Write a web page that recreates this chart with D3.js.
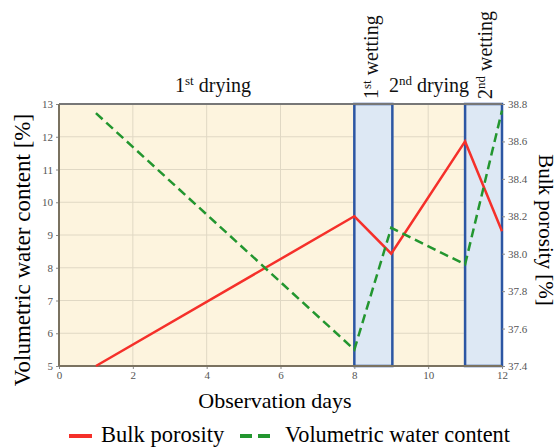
<!DOCTYPE html>
<html>
  <head>
    <script src="https://d3js.org/d3.v7.min.js"></script>
    <style>
      body { margin: 0; background: #fff; }
      svg text { font-family: 'Liberation Serif'; }
    </style>
  </head>
  <body>
    <svg width="559" height="448"></svg>
    <script>
      // data
      var porosityDays = [1, 8, 9, 11, 12];
      var porosity = [37.4, 38.2, 38.0, 38.6, 38.12];
      var waterDays = [1, 8, 9, 11, 12];
      var water = [12.72, 5.5, 9.22, 8.1, 12.8];
      var wettingStart = [8, 11];
      var wettingEnd = [9.03, 12];
      var dayTicks = [0, 2, 4, 6, 8, 10, 12];
      var waterTicks = [5, 6, 7, 8, 9, 10, 11, 12, 13];
      var porosityTicks = [37.4, 37.6, 37.8, 38.0, 38.2, 38.4, 38.6, 38.8];

      var svg = d3.select("svg");
      var plotL = 59, plotR = 502, plotT = 104, plotB = 366;
      var fontName = "'Liberation Serif'";

      var x = d3.scaleLinear().domain([0, 12]).range([plotL, plotR]);
      var yL = d3.scaleLinear().domain([5, 13]).range([plotB, plotT]);
      var yR = d3.scaleLinear().domain([37.4, 38.8]).range([plotB, plotT]);

      // background
      svg.append("rect")
        .attr("x", plotL).attr("y", plotT)
        .attr("width", plotR - plotL).attr("height", plotB - plotT)
        .style("fill", "#fdf4de");

      // grid
      svg.append("g").selectAll("line").data(waterTicks.slice(1, -1)).enter()
        .append("line")
        .attr("x1", plotL).attr("x2", plotR)
        .attr("y1", function (d) { return yL(d); })
        .attr("y2", function (d) { return yL(d); })
        .style("stroke", "#e0d8c4").style("stroke-width", 1);
      svg.append("g").selectAll("line").data(dayTicks.slice(1, -1)).enter()
        .append("line")
        .attr("y1", plotT).attr("y2", plotB)
        .attr("x1", function (d) { return x(d); })
        .attr("x2", function (d) { return x(d); })
        .style("stroke", "#e0d8c4").style("stroke-width", 1);

      // wetting periods
      svg.append("g").selectAll("rect").data(wettingStart).enter()
        .append("rect")
        .attr("x", function (d) { return x(d); })
        .attr("y", plotT)
        .attr("width", function (d, i) { return x(wettingEnd[i]) - x(d); })
        .attr("height", plotB - plotT)
        .style("fill", "#dde8f4")
        .style("stroke", "#2c56a3")
        .style("stroke-width", 2.5);

      // axes
      function styleAxis(g) {
        g.attr("font-family", null);
        g.selectAll("text")
          .style("font-family", fontName)
          .style("font-size", "11px")
          .style("fill", "#555");
        g.selectAll("line").style("stroke", "#888");
        g.select(".domain").remove();
      }
      svg.append("g")
        .attr("transform", "translate(0," + plotB + ")")
        .call(d3.axisBottom(x).tickValues(dayTicks).tickSize(3).tickPadding(2).tickFormat(d3.format("d")))
        .call(styleAxis);
      svg.append("g")
        .attr("transform", "translate(" + plotL + ",0)")
        .call(d3.axisLeft(yL).tickValues(waterTicks).tickSize(3).tickPadding(3).tickFormat(d3.format("d")))
        .call(styleAxis);
      svg.append("g")
        .attr("transform", "translate(" + plotR + ",0)")
        .call(d3.axisRight(yR).tickValues(porosityTicks).tickSize(3).tickPadding(3).tickFormat(d3.format(".1f")))
        .call(styleAxis);

      // frame lines
      svg.append("line")
        .attr("x1", plotL).attr("x2", plotR).attr("y1", plotT).attr("y2", plotT)
        .style("stroke", "#777").style("stroke-width", 2);
      svg.append("line")
        .attr("x1", plotL).attr("x2", plotR).attr("y1", plotB).attr("y2", plotB)
        .style("stroke", "#7a7260").style("stroke-width", 2);
      svg.append("line")
        .attr("x1", plotL).attr("x2", plotL).attr("y1", plotT).attr("y2", plotB)
        .style("stroke", "#7a7260").style("stroke-width", 2);

      // series
      var porosityLine = d3.line()
        .x(function (d, i) { return x(porosityDays[i]); })
        .y(function (d) { return yR(d); });
      var waterLine = d3.line()
        .x(function (d, i) { return x(waterDays[i]); })
        .y(function (d) { return yL(d); });

      svg.append("path")
        .datum(porosity)
        .attr("d", porosityLine)
        .style("fill", "none")
        .style("stroke", "#f5302a")
        .style("stroke-width", 2.5);
      svg.append("path")
        .datum(water)
        .attr("d", waterLine)
        .style("fill", "none")
        .style("stroke", "#23962f")
        .style("stroke-width", 2.5)
        .style("stroke-dasharray", "9,5");

      // period labels
      function sup(t, base, s, rest) {
        t.style("font-family", fontName).style("fill", "#111");
        t.append("tspan").text(base);
        t.append("tspan").attr("dy", -7).style("font-size", "13px").text(s);
        t.append("tspan").attr("dy", 7).text(rest);
      }
      var t1 = svg.append("text").attr("x", 213).attr("y", 92)
        .attr("text-anchor", "middle").style("font-size", "20px");
      sup(t1, "1", "st", " drying");
      var t2 = svg.append("text").attr("x", 429).attr("y", 92)
        .attr("text-anchor", "middle").style("font-size", "20px");
      sup(t2, "2", "nd", " drying");
      var t3 = svg.append("text")
        .attr("transform", "translate(378,99) rotate(-90)")
        .style("font-size", "20px");
      sup(t3, "1", "st", " wetting");
      var t4 = svg.append("text")
        .attr("transform", "translate(492,99) rotate(-90)")
        .style("font-size", "20px");
      sup(t4, "2", "nd", " wetting");

      // axis titles
      svg.append("text")
        .attr("transform", "translate(30,250) rotate(-90)")
        .attr("text-anchor", "middle")
        .style("font-family", fontName)
        .style("font-size", "23px")
        .text("Volumetric water content [%]");
      svg.append("text")
        .attr("transform", "translate(539,230) rotate(90)")
        .attr("text-anchor", "middle")
        .style("font-family", fontName)
        .style("font-size", "21px")
        .text("Bulk porosity [%]");
      svg.append("text")
        .attr("x", 275).attr("y", 408)
        .attr("text-anchor", "middle")
        .style("font-family", fontName)
        .style("font-size", "22px")
        .text("Observation days");

      // legend
      var legend = svg.append("g");
      legend.append("line")
        .attr("x1", 69).attr("x2", 92).attr("y1", 436).attr("y2", 436)
        .style("stroke", "#f5302a").style("stroke-width", 4);
      legend.append("text").attr("x", 101).attr("y", 442)
        .style("font-family", fontName)
        .style("font-size", "22.5px").text("Bulk porosity");
      legend.append("line")
        .attr("x1", 240).attr("x2", 274).attr("y1", 436).attr("y2", 436)
        .style("stroke", "#23962f").style("stroke-width", 4)
        .style("stroke-dasharray", "12,6");
      legend.append("text").attr("x", 285).attr("y", 442)
        .style("font-family", fontName)
        .style("font-size", "22.3px").text("Volumetric water content");
    </script>
  </body>
</html>
